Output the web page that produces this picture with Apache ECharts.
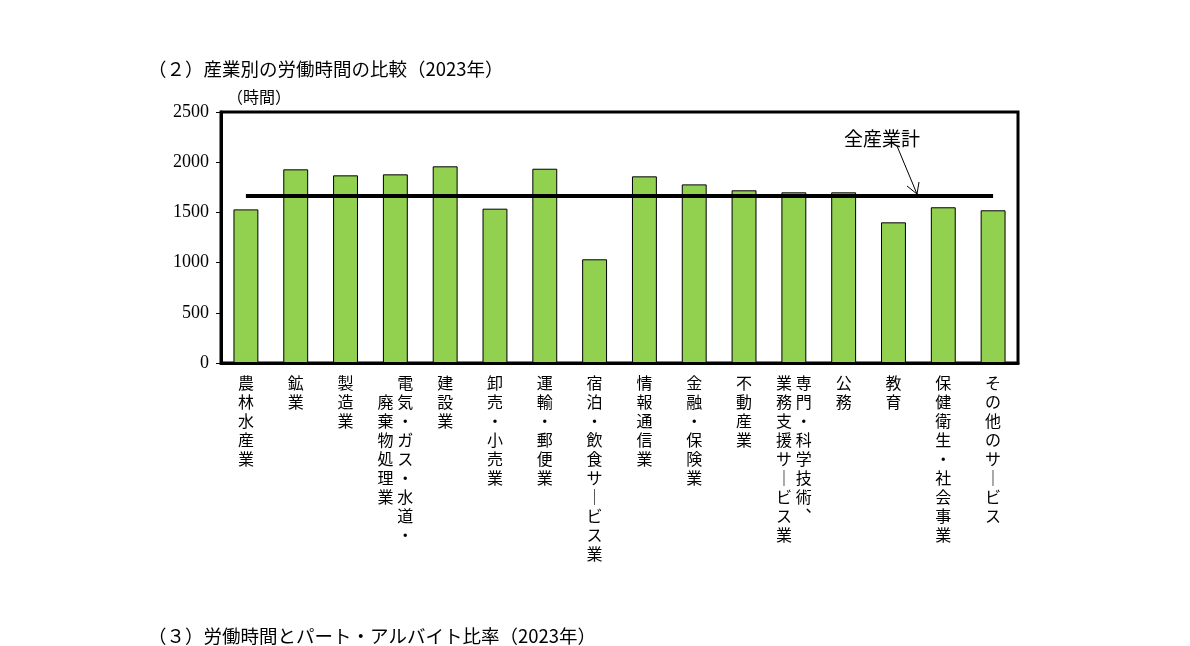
<!DOCTYPE html>
<html lang="ja">
<head>
<meta charset="UTF-8">
<title>産業別の労働時間の比較（2023年）</title>
<script src="https://cdn.jsdelivr.net/npm/echarts@6/dist/echarts.min.js"></script>
<style>
  html, body { margin: 0; padding: 0; background: #fff; }
  #main { width: 1190px; height: 646px; }
</style>
</head>
<body>
<div id="main"></div>
<script>
// 産業（ラベルの改行は縦書きの2列目）
var categories = [
  '農林水産業', '鉱業', '製造業', '電気・ガス・水道・\n廃棄物処理業', '建設業',
  '卸売・小売業', '運輸・郵便業', '宿泊・飲食サービス業', '情報通信業', '金融・保険業',
  '不動産業', '専門・科学技術、\n業務支援サービス業', '公務', '教育', '保健衛生・社会事業', 'その他のサービス'
];
// 年間労働時間（時間）
var hours = [1530, 1929, 1869, 1879, 1959, 1537, 1935, 1033, 1859, 1779, 1720, 1700, 1700, 1401, 1551, 1521];
// 全産業計
var allIndustry = 1665;
var yTicks = [0, 500, 1000, 1500, 2000, 2500];

// 2列目の開始行
var secondColStart = { 3: 1 };

function verticalLabel(name, idx) {
  var cols = name.split('\n').map(function (c) {
    return Array.from(c.replace(/ー/g, '｜').replace(/、/g, '︑'));
  });
  if (cols.length === 1) return cols[0].join('\n');
  var right = cols[0];
  var shift = secondColStart[idx] || 0;
  var left = [];
  for (var s = 0; s < shift; s++) left.push('　');
  left = left.concat(cols[1]);
  var n = Math.max(right.length, left.length);
  var rows = [];
  for (var i = 0; i < n; i++) {
    rows.push((left[i] || '　') + ' ' + (right[i] || '　'));
  }
  return rows.join('\n');
}

var myChart = echarts.init(document.getElementById('main'));

myChart.setOption({
  backgroundColor: '#fff',
  animation: false,
  grid: {
    left: 221, right: 172, top: 112, bottom: 283,
    show: true, borderColor: '#000', borderWidth: 3, backgroundColor: 'transparent'
  },
  xAxis: {
    type: 'category',
    data: categories,
    axisLine: { show: true, lineStyle: { color: '#000', width: 3 } },
    axisTick: { show: false },
    axisLabel: {
      interval: 0,
      margin: 10,
      color: '#000',
      fontFamily: 'Noto Sans CJK JP',
      fontSize: 16,
      lineHeight: 19,
      verticalAlign: 'top',
      formatter: verticalLabel
    }
  },
  yAxis: {
    type: 'value',
    min: yTicks[0],
    max: yTicks[yTicks.length - 1],
    interval: 500,
    name: '（時間）',
    nameLocation: 'end',
    nameGap: 7,
    nameTextStyle: {
      color: '#000', fontFamily: 'Noto Sans CJK JP', fontSize: 16,
      align: 'left', padding: [0, 0, 0, 6]
    },
    axisLine: { show: true, lineStyle: { color: '#000', width: 3 } },
    axisTick: { show: true, length: 5, lineStyle: { color: '#000', width: 1 } },
    splitLine: { show: false },
    axisLabel: {
      color: '#000', fontFamily: 'Liberation Serif', fontSize: 18, margin: 12,
      formatter: function (v) { return String(v); }
    }
  },
  series: [
    {
      type: 'bar',
      data: hours,
      barWidth: '50%',
      itemStyle: { color: '#92D050', borderColor: '#000', borderWidth: 1 }
    },
    {
      type: 'line',
      data: [],
      markLine: {
        silent: true,
        symbol: ['none', 'none'],
        label: { show: false },
        lineStyle: { color: '#000', width: 4, type: 'solid' },
        data: [[
          { coord: [0, allIndustry] },
          { coord: [categories.length - 1, allIndustry] }
        ]]
      }
    }
  ],
  graphic: [
    {
      type: 'text', left: 148, top: 60,
      style: {
        text: '（２）産業別の労働時間の比較（2023年）',
        fill: '#000', font: '18.5px "Noto Sans CJK JP"'
      }
    },
    {
      type: 'text', left: 148, top: 627,
      style: {
        text: '（３）労働時間とパート・アルバイト比率（2023年）',
        fill: '#000', font: '18.5px "Noto Sans CJK JP"'
      }
    },
    {
      type: 'text', left: 844, top: 129,
      style: { text: '全産業計', fill: '#000', font: '19px "Noto Sans CJK JP"' }
    },
    {
      type: 'polyline',
      shape: { points: [[897, 146], [917, 194]] },
      style: { stroke: '#000', lineWidth: 1, fill: null }
    },
    {
      type: 'polyline',
      shape: { points: [[907, 186], [917, 194], [919, 182]] },
      style: { stroke: '#000', lineWidth: 1, fill: null }
    }
  ]
});
</script>
</body>
</html>
